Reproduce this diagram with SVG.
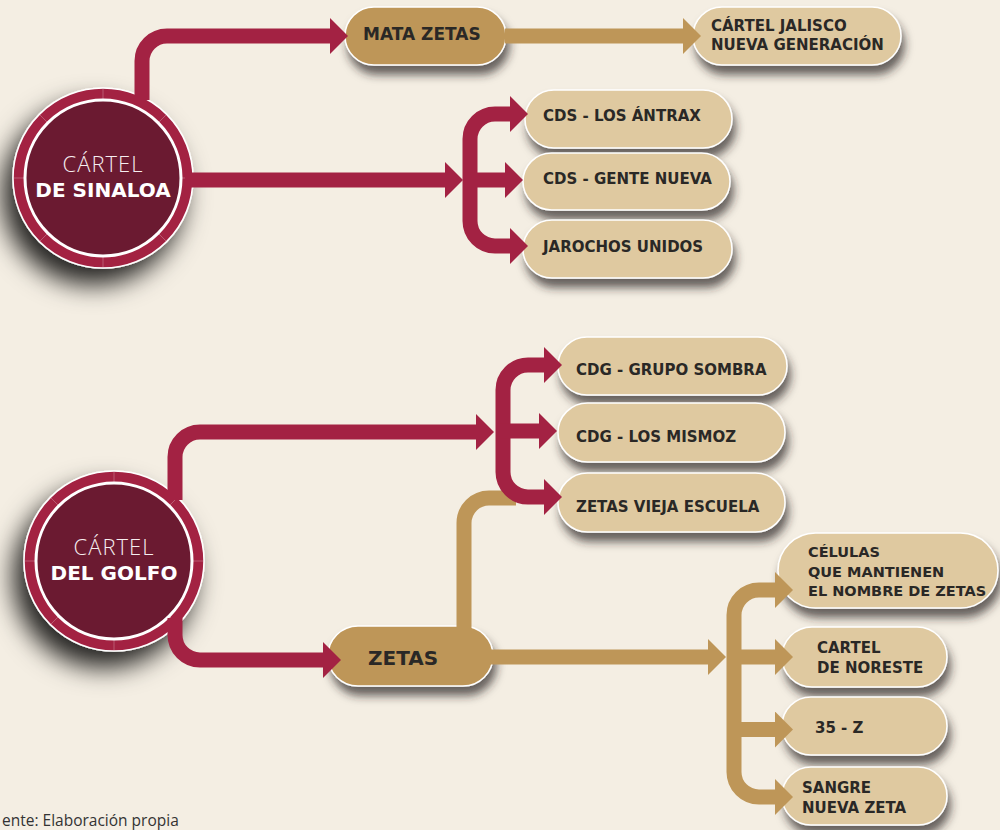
<svg xmlns="http://www.w3.org/2000/svg" width="1000" height="830" viewBox="0 0 1000 830">
<defs>
<style>
.bg{fill:#F4EEE3}
.cr{fill:none;stroke:#A32243;stroke-width:15;marker-end:url(#ac)}
.gd{fill:none;stroke:#BE9658;stroke-width:15;marker-end:url(#ag)}
.gd0{fill:none;stroke:#BE9658;stroke-width:15}
.nt{fill:#DFC9A0;stroke:#FFFFFF;stroke-width:1.5;filter:url(#ns)}
.ng{fill:#BE9658;stroke:#FFFFFF;stroke-width:1.5;filter:url(#ns)}
.lb{font-family:"DejaVu Sans","Liberation Sans",sans-serif;font-weight:bold;font-size:15px;fill:#2A2826}
.ring{fill:#A32243;stroke:#FFFFFF;stroke-width:1.5;filter:url(#cs)}
.core{fill:#6B1A31;stroke:#FFFFFF;stroke-width:3}
.tick{stroke:#FFFFFF;stroke-opacity:0.25;stroke-width:1}
.c1{font-family:"Open Sans","Liberation Sans",sans-serif;font-weight:300;font-size:22px;fill:#F6EEF0;letter-spacing:1px}
.c2{font-family:"DejaVu Sans","Liberation Sans",sans-serif;font-weight:bold;font-size:20px;fill:#FFFFFF}
</style>
<filter id="ns" x="-20%" y="-40%" width="150%" height="200%">
<feDropShadow dx="3" dy="9" stdDeviation="5" flood-color="#2b2222" flood-opacity="0.7"/>
</filter>
<filter id="cs" x="-50%" y="-50%" width="200%" height="200%">
<feDropShadow dx="-10" dy="16" stdDeviation="13" flood-color="#000000" flood-opacity="0.85"/>
</filter>
<marker id="ac" viewBox="0 0 18 36" markerWidth="18" markerHeight="36" markerUnits="userSpaceOnUse" refX="0" refY="18" orient="auto">
<path d="M0,0 L18,18 L0,36 Z" fill="#A32243"/>
</marker>
<marker id="ag" viewBox="0 0 18 36" markerWidth="18" markerHeight="36" markerUnits="userSpaceOnUse" refX="0" refY="18" orient="auto">
<path d="M0,0 L18,18 L0,36 Z" fill="#BE9658"/>
</marker>
</defs>
<rect class="bg" x="0" y="0" width="1000" height="830"/>

<g id="sinaloa">
<circle class="ring" cx="103" cy="178" r="90"/>
<g class="tick">
<line x1="13" y1="178" x2="25" y2="178"/><line x1="181" y1="178" x2="193" y2="178"/>
<line x1="103" y1="88" x2="103" y2="100"/><line x1="103" y1="256" x2="103" y2="268"/>
<line x1="39" y1="114" x2="48" y2="123"/><line x1="167" y1="114" x2="158" y2="123"/>
<line x1="39" y1="242" x2="48" y2="233"/><line x1="167" y1="242" x2="158" y2="233"/>
</g>
<circle class="core" cx="103" cy="178" r="78"/>
<text class="c1" x="103" y="172" text-anchor="middle">CÁRTEL</text>
<text class="c2" x="103" y="197" text-anchor="middle">DE SINALOA</text>
</g>

<g id="golfo">
<circle class="ring" cx="114" cy="561" r="90"/>
<g class="tick">
<line x1="24" y1="561" x2="36" y2="561"/><line x1="192" y1="561" x2="204" y2="561"/>
<line x1="114" y1="471" x2="114" y2="483"/><line x1="114" y1="639" x2="114" y2="651"/>
<line x1="50" y1="497" x2="59" y2="506"/><line x1="178" y1="497" x2="169" y2="506"/>
<line x1="50" y1="625" x2="59" y2="616"/><line x1="178" y1="625" x2="169" y2="616"/>
</g>
<circle class="core" cx="114" cy="561" r="78"/>
<text class="c1" x="114" y="555" text-anchor="middle">CÁRTEL</text>
<text class="c2" x="114" y="580" text-anchor="middle">DEL GOLFO</text>
</g>

<g id="mata-zetas">
<rect class="ng" x="345" y="7" width="161" height="58" rx="29"/>
<text class="lb" x="363" y="40" style="font-size:17px">MATA ZETAS</text>
</g>
<g id="cjng">
<rect class="nt" x="693" y="7" width="208" height="58" rx="29"/>
<text class="lb" x="711" y="31">CÁRTEL JALISCO</text>
<text class="lb" x="711" y="50">NUEVA GENERACIÓN</text>
</g>
<g id="cds-antrax">
<rect class="nt" x="525" y="90" width="207" height="58" rx="29"/>
<text class="lb" x="543" y="121">CDS - LOS ÁNTRAX</text>
</g>
<g id="cds-gente">
<rect class="nt" x="523" y="153" width="207" height="57" rx="28.5"/>
<text class="lb" x="543" y="184">CDS - GENTE NUEVA</text>
</g>
<g id="jarochos">
<rect class="nt" x="523" y="220" width="209" height="58" rx="29"/>
<text class="lb" x="543" y="252">JAROCHOS UNIDOS</text>
</g>
<g id="cdg-sombra">
<rect class="nt" x="558" y="337" width="229" height="58" rx="29"/>
<text class="lb" x="576" y="375">CDG - GRUPO SOMBRA</text>
</g>
<g id="cdg-mismoz">
<rect class="nt" x="558" y="403" width="227" height="59" rx="29.5"/>
<text class="lb" x="576" y="442">CDG - LOS MISMOZ</text>
</g>
<g id="zetas-vieja">
<rect class="nt" x="558" y="473" width="227" height="59" rx="29.5"/>
<text class="lb" x="576" y="512">ZETAS VIEJA ESCUELA</text>
</g>
<g id="zetas">
<rect class="ng" x="328" y="626" width="165" height="60" rx="30"/>
<text class="lb" x="368" y="665" style="font-size:20px">ZETAS</text>
</g>
<g id="celulas">
<rect class="nt" x="778" y="533" width="220" height="75" rx="37.5"/>
<text class="lb" x="808" y="557" style="font-size:14.5px">CÉLULAS</text>
<text class="lb" x="808" y="577" style="font-size:14.5px">QUE MANTIENEN</text>
<text class="lb" x="808" y="596" style="font-size:14.5px">EL NOMBRE DE ZETAS</text>
</g>
<g id="noreste">
<rect class="nt" x="782" y="627" width="165" height="60" rx="30"/>
<text class="lb" x="817" y="653">CARTEL</text>
<text class="lb" x="817" y="673">DE NORESTE</text>
</g>
<g id="z35">
<rect class="nt" x="782" y="697" width="165" height="58" rx="29"/>
<text class="lb" x="815" y="733">35 - Z</text>
</g>
<g id="sangre">
<rect class="nt" x="782" y="767" width="165" height="58" rx="29"/>
<text class="lb" x="802" y="793">SANGRE</text>
<text class="lb" x="802" y="813">NUEVA ZETA</text>
</g>

<g id="connectors">
<path class="gd" d="M505,36 H683"/>
<path class="gd0" d="M464,632 V523 A25,25 0 0 1 489,498 H516"/>
<path class="gd" d="M490,657 H708"/>
<path class="gd" d="M734,657 V615 A25,25 0 0 1 759,590 H775"/>
<path class="gd" d="M734,657 V772 A25,25 0 0 0 759,797 H775"/>
<path class="gd" d="M727,657 H775"/>
<path class="gd" d="M734,729.5 H775"/>
<path class="cr" d="M142,100 V61 A25,25 0 0 1 167,36 H330"/>
<path class="cr" d="M185,180 H445"/>
<path class="cr" d="M470,180 V139 A25,25 0 0 1 495,114 H510"/>
<path class="cr" d="M470,180 V221 A25,25 0 0 0 495,246 H510"/>
<path class="cr" d="M463,180 H505"/>
<path class="cr" d="M175,500 V457 A25,25 0 0 1 200,432 H476"/>
<path class="cr" d="M175,618 V635 A25,25 0 0 0 200,660 H323"/>
<path class="cr" d="M503,431 V390 A25,25 0 0 1 528,365 H544"/>
<path class="cr" d="M503,431 V472 A25,25 0 0 0 528,497 H544"/>
<path class="cr" d="M496,431 H539"/>
</g>

<text x="2" y="826" style="font-family:'Open Sans','Liberation Sans',sans-serif;font-size:15.5px;fill:#333333">ente: Elaboración propia</text>
</svg>
